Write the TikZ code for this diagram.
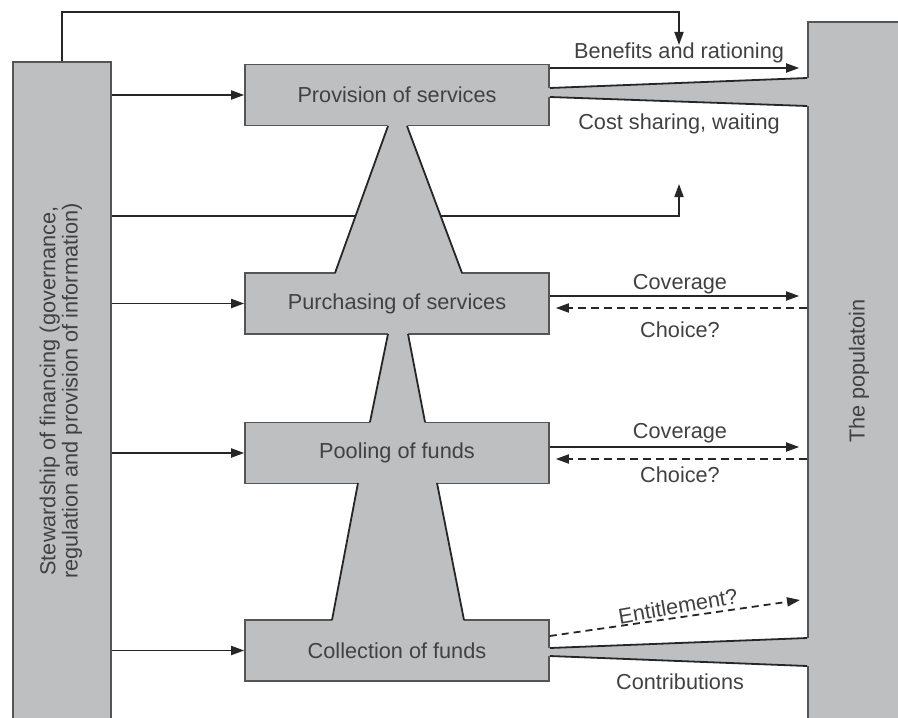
\documentclass[tikz,border=0pt]{standalone}
\usepackage{fontspec}
\setmainfont{Liberation Sans}
\usetikzlibrary{arrows.meta, calc}
\definecolor{boxgray}{RGB}{190,191,193}
\definecolor{edgegray}{RGB}{85,85,85}
\definecolor{textgray}{RGB}{65,65,65}

\begin{document}
\begin{tikzpicture}[x=0.5pt, y=-0.5pt, >={Triangle[length=6.5pt, width=4.5pt]},
        stage/.style={draw=edgegray, fill=boxgray, line width=0.8pt,
            minimum width=152pt, minimum height=30.5pt, inner sep=0pt,
            text=textgray, font=\fontsize{10.85}{11}\selectfont},
        lbl/.style={text=textgray, inner sep=0pt, font=\fontsize{10.85}{11}\selectfont},
        flow/.style={line width=0.9pt, black!85}]
        \useasboundingbox (0, 0) rectangle (898, 717);
        \clip (0, 0) rectangle (898, 717);
        % side bars
        \node[stage, minimum width=49pt, minimum height=329pt] (steward) at (62, 391)
            {\rotatebox{90}{\begin{tabular}{@{}c@{}}Stewardship of financing (governance,\\
             regulation and provision of information)\end{tabular}}};
        \node[stage, minimum width=51pt, minimum height=349pt] (population) at (859, 371)
            {\rotatebox{90}{The populatoin}};
        % functions
        \node[stage] (provision) at (397, 95) {Provision of services};
        \node[stage] (purchasing) at (397, 303.5) {Purchasing of services};
        \node[stage] (pooling) at (397, 453) {Pooling of funds};
        \node[stage] (collection) at (397, 650.5) {Collection of funds};
        % stewardship arrows
        \foreach \f in {provision, purchasing, pooling, collection}
            \draw[flow, ->] (steward.east |- \f.west) -- (\f.west);
        \coordinate (toptip) at (679, 45);
        \coordinate (midtip) at (679, 184);
        \draw[flow, ->] (steward.north) -- (steward.north |- 0, 12) -| (toptip);
        \draw[flow, ->] (steward.east |- 0, 216) -| (midtip);
        % funnels between the functions
        \fill[boxgray] (388, 124) -- (407, 124) -- (462, 275) -- (335, 275) -- cycle;
        \draw[flow] (388, 126) -- (335, 273) (407, 126) -- (462, 273);
        \fill[boxgray] (388, 332) -- (408, 332) -- (425, 424) -- (370, 424) -- cycle;
        \draw[flow] (388, 334) -- (370, 422) (408, 334) -- (425, 422);
        \fill[boxgray] (358, 481) -- (437, 481) -- (464, 622) -- (332, 622) -- cycle;
        \draw[flow] (358, 483) -- (332, 620) (437, 483) -- (464, 620);
        % wedges to the population
        \fill[boxgray] (547, 88) -- (810, 78) -- (810, 106) -- (547, 97) -- cycle;
        \draw[flow] (provision.east |- 0, 88) -- (population.west |- 0, 78)
            (provision.east |- 0, 97) -- (population.west |- 0, 106);
        \fill[boxgray] (547, 648) -- (810, 638) -- (810, 666) -- (547, 656) -- cycle;
        \draw[flow] (collection.east |- 0, 648) -- (population.west |- 0, 638)
            (collection.east |- 0, 656) -- (population.west |- 0, 666);
        % flows
        \draw[flow, ->, shorten >=4pt] (provision.east |- 0, 68) -- (population.west |- 0, 68);
        \draw[flow, ->, shorten >=4pt] (purchasing.east |- 0, 296) -- (population.west |- 0, 296);
        \draw[flow, ->, dashed, dash pattern=on 4pt off 2.5pt, shorten >=3pt]
            (population.west |- 0, 308) -- (purchasing.east |- 0, 308);
        \draw[flow, ->, shorten >=4pt] (pooling.east |- 0, 447) -- (population.west |- 0, 447);
        \draw[flow, ->, dashed, dash pattern=on 4pt off 2.5pt, shorten >=3pt]
            (population.west |- 0, 459) -- (pooling.east |- 0, 459);
        \coordinate (enttip) at (800, 600);
        \draw[flow, ->, dashed, dash pattern=on 3.5pt off 2.5pt] (collection.east |- 0, 636) -- (enttip);
        % labels
        \node[lbl] (benefits) at (679, 53) {Benefits and rationing};
        \node[lbl] (costshare) at (679, 124) {Cost sharing, waiting};
        \node[lbl] (coverpurch) at (680, 284) {Coverage};
        \node[lbl] (choicepurch) at (680, 330) {Choice?};
        \node[lbl] (coverpool) at (680, 433) {Coverage};
        \node[lbl] (choicepool) at (680, 475) {Choice?};
        \node[lbl, rotate=10] (entitle) at (678, 606) {Entitlement?};
        \node[lbl] (contrib) at (680, 682) {Contributions};
\end{tikzpicture}
\end{document}
